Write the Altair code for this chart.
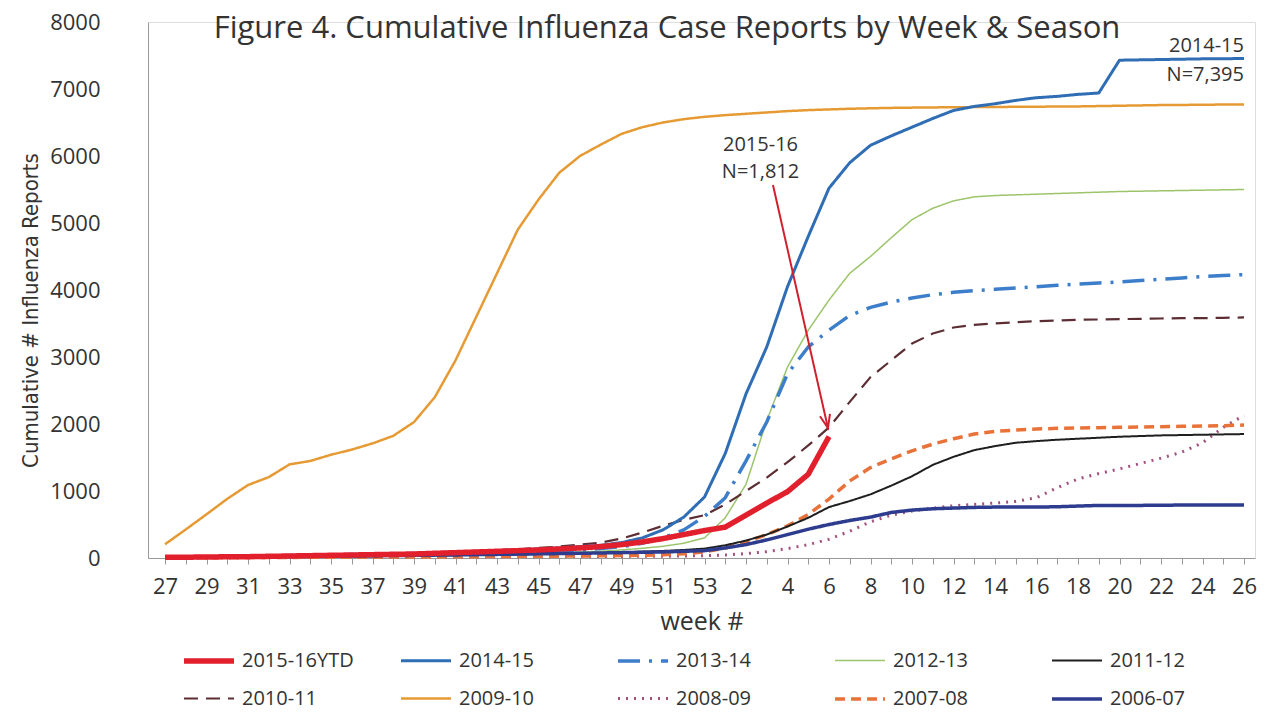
import altair as alt
import pandas as pd

# ---------------- data ----------------
WEEKS = list(range(27, 54)) + list(range(1, 27))  # x positions 0..52

SEASONS = ["2015-16YTD", "2014-15", "2013-14", "2012-13", "2011-12",
           "2010-11", "2009-10", "2008-09", "2007-08", "2006-07"]
COLORS = ["#E2202D", "#2F6DB5", "#3D7ECB", "#9CC46B", "#1F1F1F",
          "#5C2E33", "#E69A33", "#A3517F", "#E8733A", "#2D3C8E"]
DASHES = [[1, 0], [1, 0], [22, 9, 3, 9], [1, 0], [1, 0],
          [14, 8], [1, 0], [2, 6], [10, 6], [1, 0]]
WIDTHS = [5.5, 3, 3.5, 1.5, 2, 2.2, 2.5, 3, 3.5, 3.5]

s2015_16 = [10, 12, 15, 18, 20, 25, 30, 35, 40, 45, 50, 55, 60, 70, 80, 90, 100, 110, 120, 135,
            150, 170, 200, 240, 290, 350, 410, 460, 640, 820, 990, 1250, 1812]
s2014_15 = [10, 15, 20, 25, 30, 35, 40, 45, 50, 55, 60, 65, 70, 80, 90, 100, 110, 120, 135, 150, 170,
            190, 230, 300, 420, 610, 910,
            1560, 2450, 3150, 4050, 4800, 5520,
            5900, 6160, 6300, 6430, 6560, 6680, 6740,
            6780, 6830, 6870, 6890, 6920, 6940,
            7430, 7435, 7440, 7445, 7450, 7452, 7455]
s2013_14 = [5, 8, 10, 12, 15, 18, 20, 25, 30, 35, 40, 45, 50, 55, 60, 70, 80, 90, 100, 110, 120,
            140, 170, 220, 300, 420, 620,
            900, 1450, 2030, 2750, 3150, 3400,
            3620, 3740, 3820, 3880, 3930, 3965, 3990,
            4010, 4030, 4050, 4070, 4090, 4105,
            4120, 4140, 4160, 4180, 4200, 4215, 4230]
s2012_13 = [5, 7, 9, 11, 13, 15, 17, 20, 23, 26, 30, 34, 38, 42, 46, 50, 55, 60, 70, 80, 90,
            100, 120, 145, 175, 220, 300,
            600, 1100, 2050, 2850, 3400, 3850,
            4250, 4500, 4780, 5050, 5220, 5330, 5390,
            5410, 5420, 5430, 5440, 5450, 5460,
            5470, 5475, 5480, 5485, 5490, 5495, 5500]
s2011_12 = [5, 6, 8, 10, 12, 14, 16, 18, 20, 23, 26, 30, 34, 38, 42, 46, 50, 55, 60, 65, 70,
            75, 85, 95, 105, 120, 140,
            190, 260, 350, 470, 600, 760,
            850, 950, 1080, 1220, 1390, 1510, 1610,
            1670, 1720, 1745, 1765, 1780, 1795,
            1810, 1820, 1830, 1835, 1840, 1845, 1850]
s2010_11 = [10, 12, 15, 18, 20, 25, 30, 35, 40, 45, 50, 60, 70, 80, 90, 100, 115, 130, 150, 170, 200,
            230, 290, 380, 480, 570, 640,
            800, 1000, 1200, 1430, 1680, 1950,
            2330, 2700, 2950, 3200, 3350, 3440, 3480,
            3500, 3520, 3535, 3545, 3555, 3560,
            3565, 3570, 3575, 3580, 3580, 3585, 3590]
s2009_10 = [205, 426, 652, 883, 1089, 1207, 1397, 1448, 1541, 1618, 1710, 1823, 2029, 2400,
            2950, 3600, 4250, 4900, 5350, 5750, 6000, 6170, 6330, 6430, 6500, 6550, 6585,
            6610, 6630, 6650, 6670, 6685, 6695,
            6705, 6712, 6718, 6722, 6725, 6728, 6730,
            6732, 6734, 6736, 6738, 6740, 6745,
            6750, 6755, 6760, 6762, 6765, 6768, 6770]
s2008_09 = [2, 3, 4, 5, 6, 7, 8, 9, 10, 11, 12, 13, 14, 15, 16, 17, 18, 19, 20, 21, 22, 23, 24, 25, 27, 30, 35,
            45, 65, 95, 140, 200, 280,
            400, 540, 640, 700, 745, 780, 800,
            820, 845, 900, 1050, 1180, 1260,
            1330, 1410, 1490, 1580, 1720, 1950, 2130]
s2007_08 = [3, 4, 5, 6, 7, 8, 9, 10, 11, 12, 13, 14, 15, 16, 18, 20, 22, 24, 26, 28, 30, 33, 36, 40, 50, 65, 90,
            150, 240, 350, 480, 650, 880,
            1150, 1350, 1480, 1600, 1700, 1780, 1850,
            1890, 1910, 1925, 1935, 1940, 1945,
            1950, 1955, 1960, 1965, 1970, 1975, 1985]
s2006_07 = [15, 17, 19, 21, 23, 25, 27, 29, 31, 33, 35, 37, 40, 43, 46, 50, 54, 58, 62, 66, 70,
            75, 80, 85, 90, 100, 110,
            150, 200, 270, 350, 430, 500,
            560, 610, 680, 715, 735, 745, 755,
            760, 760, 760, 765, 775, 785,
            785, 785, 788, 790, 790, 790, 790]

SERIES = {
    "2015-16YTD": s2015_16, "2014-15": s2014_15, "2013-14": s2013_14,
    "2012-13": s2012_13, "2011-12": s2011_12, "2010-11": s2010_11,
    "2009-10": s2009_10, "2008-09": s2008_09, "2007-08": s2007_08,
    "2006-07": s2006_07,
}
DRAW_ORDER = ["2009-10", "2008-09", "2012-13", "2007-08", "2011-12",
              "2010-11", "2013-14", "2014-15", "2006-07", "2015-16YTD"]

TITLE = "Figure 4. Cumulative Influenza Case Reports by Week & Season"
Y_TITLE = "Cumulative # Influenza Reports"
X_TITLE = "week #"

# annotation anchors (data units: x position index, cumulative count)
ANN_RIGHT = {"idx": [52, 52], "value": [7640, 7209], "text": ["2014-15", "N=7,395"]}
ANN_CENTER = {"idx": [28.7, 28.7], "value": [6170, 5755], "text": ["2015-16", "N=1,812"]}
ARROW = {"idx": [29.3], "value": [5567], "idx2": [31.95], "value2": [1940]}

# ---------------- build ----------------
rows = []
for name in DRAW_ORDER:
    for i, v in enumerate(SERIES[name]):
        rows.append({"idx": i, "week": WEEKS[i], "season": name, "value": v})
df = pd.DataFrame(rows)

FONT = "Open Sans"
TXT = "#333333"

label_expr = ("datum.value % 2 == 1 ? '' : "
              "(datum.value < 27 ? '' + (datum.value + 27) : '' + (datum.value - 26))")

X = alt.X("idx:Q",
          scale=alt.Scale(domain=[-0.82, 52.53], nice=False, zero=False),
          axis=alt.Axis(values=list(range(len(WEEKS))), labelExpr=label_expr,
                        title=X_TITLE, grid=False, domainColor="#999999",
                        tickColor="#999999", tickSize=6, labelFont=FONT,
                        labelFontSize=22, labelColor=TXT, labelPadding=12,
                        labelOverlap=False, labelFlush=False,
                        titleFont=FONT, titleFontSize=25, titleFontWeight="normal",
                        titleColor=TXT, titlePadding=12))
Y = alt.Y("value:Q",
          scale=alt.Scale(domain=[0, 8000], nice=False),
          axis=alt.Axis(values=list(range(0, 8001, 1000)), format="d", ticks=False,
                        grid=False, domainColor="#999999", labelFont=FONT,
                        labelFontSize=22, labelColor=TXT, labelPadding=48,
                        title=Y_TITLE, titleFont="Liberation Sans Narrow, DejaVu Sans Condensed, sans-serif",
                        titleFontSize=22, titleFontWeight="normal", titleColor=TXT,
                        titleX=-118, titleY=288, titleAngle=270,
                        titleAlign="center", titleBaseline="middle"))

leg = alt.Legend(title=None, orient="none", legendX=33, legendY=611,
                 direction="horizontal", columns=5, symbolType="stroke",
                 symbolSize=2500, labelFont=FONT, labelFontSize=20,
                 labelColor=TXT, labelOffset=5, rowPadding=-10,
                 columnPadding=40, gridAlign="all", labelLimit=300)

lines = alt.Chart(df).mark_line(strokeCap="butt", strokeJoin="round").encode(
    x=X, y=Y,
    color=alt.Color("season:N", scale=alt.Scale(domain=SEASONS, range=COLORS), legend=leg),
    strokeDash=alt.StrokeDash("season:N", scale=alt.Scale(domain=SEASONS, range=DASHES), legend=leg),
    strokeWidth=alt.StrokeWidth("season:N",
                                scale=alt.Scale(type="ordinal", domain=SEASONS, range=WIDTHS),
                                legend=leg),
)

arrow_df = pd.DataFrame(ARROW)
arrow_line = alt.Chart(arrow_df).mark_rule(color="#D0202E", strokeWidth=2).encode(
    x=X, y=Y, x2=alt.X2("idx2:Q"), y2=alt.Y2("value2:Q"))
arrow_head = alt.Chart(pd.DataFrame({"idx": ARROW["idx2"], "value": ARROW["value2"]})).mark_point(
    shape="M-0.5,-1.3L0,0L0.5,-1.3", filled=False, size=420, angle=347,
    color="#D0202E", strokeWidth=2, opacity=1).encode(x=X, y=Y)

ann_r = alt.Chart(pd.DataFrame(ANN_RIGHT)).mark_text(
    align="right", baseline="middle", font=FONT, fontSize=20, color=TXT).encode(
    x=X, y=Y, text="text:N")
ann_c = alt.Chart(pd.DataFrame(ANN_CENTER)).mark_text(
    align="center", baseline="middle", font=FONT, fontSize=20, color=TXT).encode(
    x=X, y=Y, text="text:N")

title = alt.Chart(pd.DataFrame({"t": [TITLE]})).mark_text(
    align="center", baseline="middle", font=FONT, fontSize=31, color=TXT).encode(
    text="t:N", x=alt.value(519), y=alt.value(7))

chart = alt.layer(lines, arrow_line, arrow_head, ann_r, ann_c, title).properties(
    width=1107, height=536,
    autosize=alt.AutoSizeParams(type="none"),
    padding={"left": 140, "top": 14, "right": 8, "bottom": 157},
).configure_view(stroke=None).configure(background="white")

chart.save("out.html", embed_options={"renderer": "svg", "actions": False})
